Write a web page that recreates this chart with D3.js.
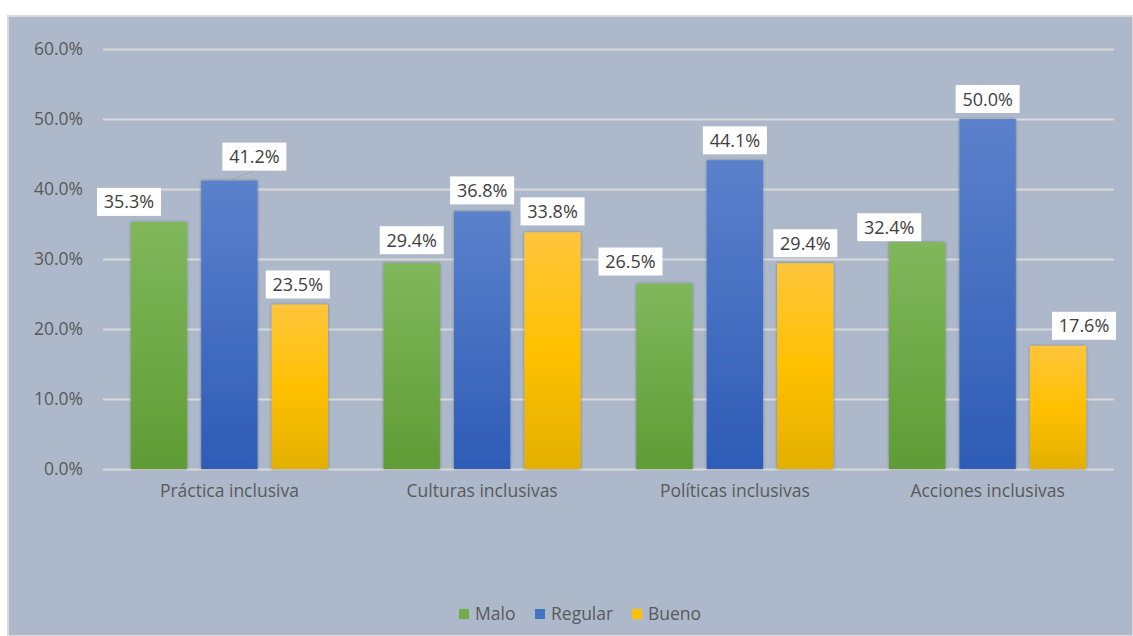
<!DOCTYPE html>
<html>
<head>
<meta charset="utf-8">
<script src="https://cdn.jsdelivr.net/npm/d3@7/dist/d3.min.js"></script>
<style>
  html, body { margin: 0; padding: 0; background: #fff; }
  svg { display: block; }
  svg text { font-family: "Open Sans", "Noto Sans", sans-serif; }
</style>
</head>
<body>
<svg id="chart" width="1133" height="636"></svg>
<script>
// data
const categories = ['Práctica inclusiva', 'Culturas inclusivas', 'Políticas inclusivas', 'Acciones inclusivas'];
const seriesNames = ['Malo', 'Regular', 'Bueno'];
const malo = [35.3, 29.4, 26.5, 32.4];
const regular = [41.2, 36.8, 44.1, 50.0];
const bueno = [23.5, 33.8, 29.4, 17.6];
const yTicks = [0, 10, 20, 30, 40, 50, 60];

// hand-moved data labels in the original: [dx from bar centre, gap above bar]
const labelNudge = [
  [[-30, 6], [25, 10], [-2, 6]],
  [[0, 9], [0, 7], [0, 7]],
  [[-34, 8], [0, 6], [0, 6]],
  [[-28, 1], [0, 6], [26, 6]]
];

const seriesValues = [malo, regular, bueno];
const colors = {
  Malo: ['#80b75b', '#5f9c35'],
  Regular: ['#5b81cb', '#2e5cb6'],
  Bueno: ['#ffc53c', '#ffc000', '#e2b000']
};
const legendColors = { Malo: '#70ad47', Regular: '#4472c4', Bueno: '#ffc000' };

const svg = d3.select('#chart');
const W = 1133, H = 636;
const plot = { left: 103, right: 1114, top: 49, bottom: 469 };

// chart area
svg.append('rect')
  .attr('x', 8).attr('y', 16)
  .attr('width', W - 8).attr('height', H - 16)
  .attr('fill', '#adb9ca')
  .attr('stroke', '#d9d9d9').attr('stroke-width', 2);

const defs = svg.append('defs');
seriesNames.forEach(name => {
  const g = defs.append('linearGradient')
    .attr('id', 'grad-' + name)
    .attr('x1', 0).attr('y1', 0).attr('x2', 0).attr('y2', 1);
  const stops = colors[name];
  stops.forEach((c, i) => {
    g.append('stop').attr('offset', (i / (stops.length - 1)) * 100 + '%').attr('stop-color', c);
  });
});
const shadow = defs.append('filter').attr('id', 'shadow')
  .attr('x', '-20%').attr('y', '-10%').attr('width', '140%').attr('height', '120%');
shadow.append('feDropShadow')
  .attr('dx', 0).attr('dy', 0).attr('stdDeviation', 1.6)
  .attr('flood-color', '#000').attr('flood-opacity', 0.35);

const y = d3.scaleLinear().domain([0, 60]).range([plot.bottom, plot.top]);
const x0 = d3.scaleBand().domain(categories).range([plot.left, plot.right])
  .paddingInner(0.22).paddingOuter(0.11);
const x1 = d3.scaleBand().domain(seriesNames).range([0, x0.bandwidth()])
  .paddingInner(0.2).paddingOuter(0);

// gridlines + y labels
const yAxis = d3.axisLeft(y).tickValues(yTicks)
  .tickSize(-(plot.right - plot.left))
  .tickPadding(20)
  .tickFormat(d => d.toFixed(1) + '%');
const gy = svg.append('g').attr('transform', `translate(${plot.left},0)`).call(yAxis);
gy.attr('font-family', null);
gy.select('.domain').remove();
gy.selectAll('.tick line').attr('stroke', '#d9d9d9').attr('stroke-width', 2);
gy.selectAll('.tick text').attr('fill', '#595959').attr('font-size', 17.5);

// category axis
const xAxis = d3.axisBottom(x0).tickSize(0).tickPadding(16);
const gx = svg.append('g').attr('transform', `translate(0,${plot.bottom})`).call(xAxis);
gx.attr('font-family', null);
gx.select('.domain').remove();
gx.selectAll('.tick text').attr('fill', '#595959').attr('font-size', 17.5);

// bars
const rows = [];
categories.forEach((cat, ci) => {
  seriesNames.forEach((s, si) => {
    rows.push({ cat, ci, s, si, v: seriesValues[si][ci] });
  });
});

svg.append('g').selectAll('rect')
  .data(rows)
  .join('rect')
  .attr('x', d => x0(d.cat) + x1(d.s))
  .attr('y', d => y(d.v))
  .attr('width', x1.bandwidth())
  .attr('height', d => y(0) - y(d.v))
  .attr('fill', d => `url(#grad-${d.s})`)
  .attr('filter', 'url(#shadow)');

// data labels
const boxW = 64, boxH = 28;
const labels = svg.append('g').selectAll('g')
  .data(rows)
  .join('g')
  .attr('transform', d => {
    const [dx, gap] = labelNudge[d.ci][d.si];
    const cx = x0(d.cat) + x1(d.s) + x1.bandwidth() / 2 + dx;
    const by = y(d.v) - gap;
    return `translate(${cx},${by - boxH})`;
  });

// leader line where the label sits far off the bar
labels.filter(d => labelNudge[d.ci][d.si][1] >= 10)
  .append('line')
  .attr('x1', d => -labelNudge[d.ci][d.si][0])
  .attr('y1', d => boxH + labelNudge[d.ci][d.si][1])
  .attr('x2', 0).attr('y2', boxH)
  .attr('stroke', '#a6a6a6').attr('stroke-width', 1);

labels.append('rect')
  .attr('x', -boxW / 2).attr('y', 0)
  .attr('width', boxW).attr('height', boxH)
  .attr('fill', '#fff');

labels.append('text')
  .attr('x', 0).attr('y', boxH / 2 + 6.5)
  .attr('text-anchor', 'middle')
  .attr('font-size', 18)
  .attr('fill', '#404040')
  .text(d => d.v.toFixed(1) + '%');

// legend
const legendX = [459, 535, 632];
const legend = svg.append('g').selectAll('g')
  .data(seriesNames)
  .join('g')
  .attr('transform', (d, i) => `translate(${legendX[i]},609)`);
legend.append('rect')
  .attr('width', 10).attr('height', 10)
  .attr('fill', d => legendColors[d]);
legend.append('text')
  .attr('x', 16).attr('y', 11)
  .attr('font-size', 17.5)
  .attr('fill', '#595959')
  .text(d => d);
</script>
</body>
</html>
